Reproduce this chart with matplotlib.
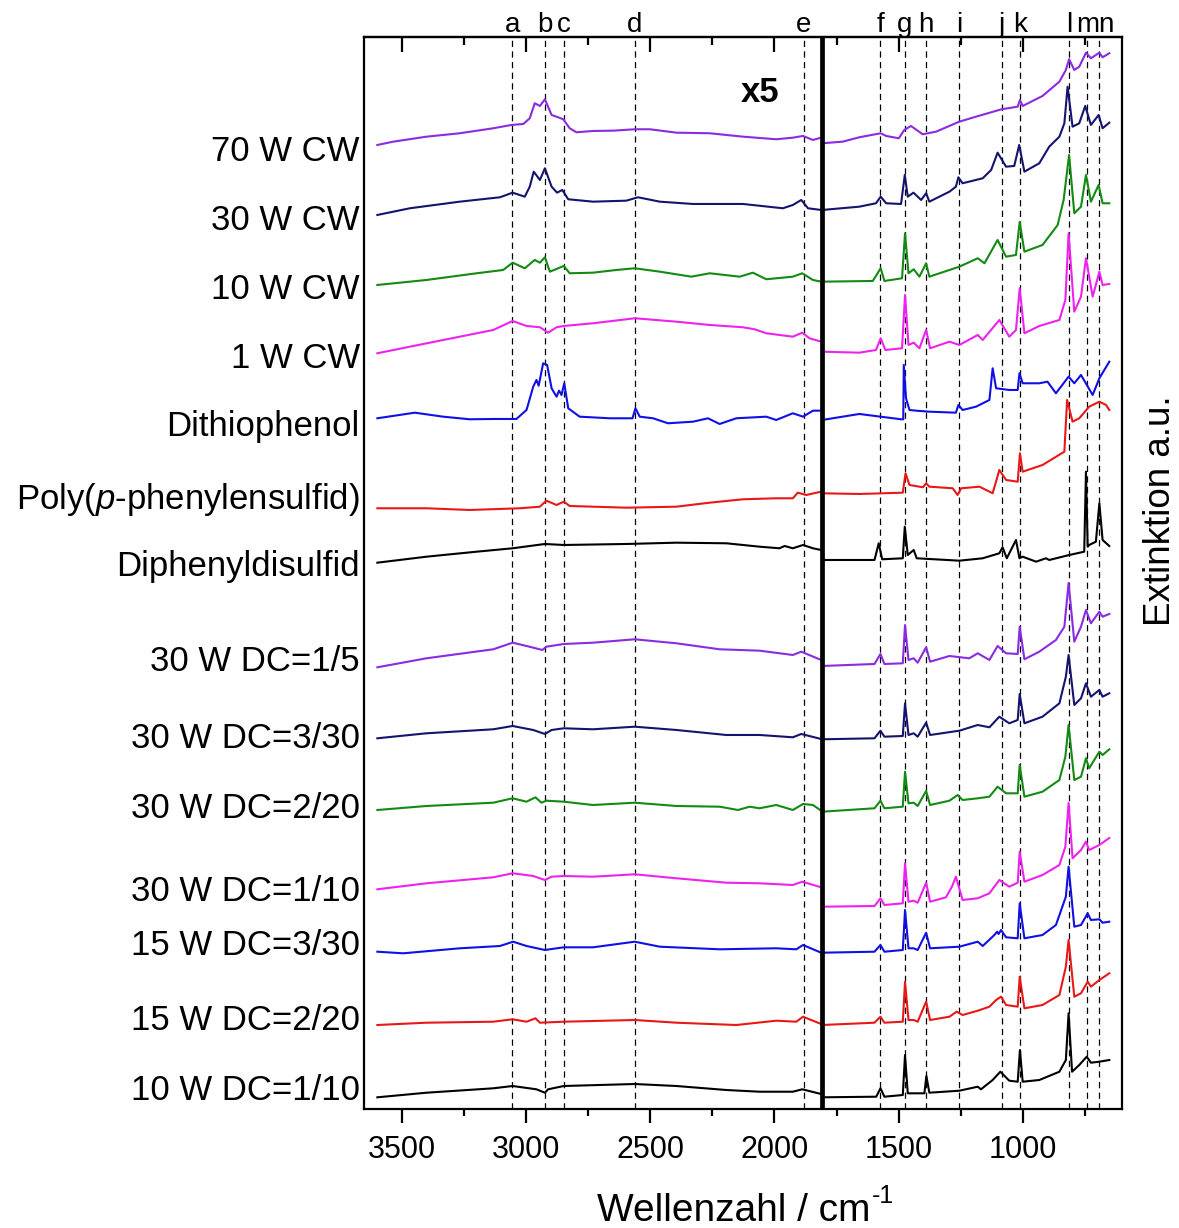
import matplotlib
matplotlib.use('Agg')
import matplotlib.pyplot as plt
from matplotlib.ticker import MultipleLocator
import matplotlib.transforms as mtransforms

plt.rcParams['font.family'] = ['Liberation Sans', 'DejaVu Sans']
plt.rcParams['mathtext.fontset'] = 'custom'
plt.rcParams['mathtext.rm'] = 'Liberation Sans'
plt.rcParams['mathtext.it'] = 'Liberation Sans:italic'
plt.rcParams['axes.unicode_minus'] = False

# ---------------- data ----------------
labels = ["70 W CW", "30 W CW", "10 W CW", "1 W CW", "Dithiophenol",
          "Poly($\\it{p}$-phenylensulfid)", "Diphenyldisulfid",
          "30 W DC=1/5", "30 W DC=3/30", "30 W DC=2/20", "30 W DC=1/10",
          "15 W DC=3/30", "15 W DC=2/20", "10 W DC=1/10"]
colors = ["#8A2BE2", "#14146E", "#138A13", "#EE22EE", "#1010E6", "#E81818", "#000000",
          "#8A2BE2", "#14146E", "#138A13", "#EE22EE", "#1010E6", "#E81818", "#000000"]
offsets = [964, 894, 824, 755.7, 690.7, 600.7, 546.3, 441.7, 370.7, 299, 219.7, 157.3, 84, 11.7]
label_pos = [961, 892, 823, 754, 686, 614, 546, 451, 374, 304, 221, 167, 92, 22]

band_wn = [3056, 2925, 2850, 2562, 1883, 1573, 1474, 1390, 1257, 1085, 1009, 814, 739, 691]
band_letters = ["a", "b", "c", "d", "e", "f", "g", "h", "i", "j", "k", "l", "m", "n"]
band_dx = [0, 0, 0, 0, 0, 0, 0, 0, 0, 0, 0, 0, 0, 5]
break_wn = 1810

# 70 W CW
wnL_cw70 = [3600, 3536, 3402, 3268, 3133, 3060, 3012, 2986, 2966, 2945, 2925, 2898, 2872, 2851, 2825, 2798, 2731, 2650, 2563, 2502, 2395, 2261, 2127, 1993, 1926, 1885, 1845, 1812]
exL_cw70 = [0, 3.3, 8.3, 11.7, 16.7, 20, 21, 26.7, 41.7, 39, 45.7, 30, 27.7, 25.7, 16.7, 12.7, 14, 14.3, 15.7, 15.7, 12.3, 11.7, 8.3, 5.7, 7.3, 9, 5, 7.3]
wnR_cw70 = [1808, 1725, 1658, 1572, 1550, 1499, 1477, 1450, 1403, 1349, 1255, 1188, 1085, 1020, 1011, 1000, 920, 852, 826, 813, 792, 772, 745, 725, 691, 678, 651]
exR_cw70 = [1.7, 3.3, 7.7, 11.7, 9, 6.7, 15, 19, 10.7, 13.3, 23.3, 28.3, 35.7, 38.3, 45, 39, 49, 63.3, 75, 85.7, 75, 78.3, 92.3, 86.7, 92.3, 87.7, 91.7]

# 30 W CW
wnL_cw30 = [3600, 3469, 3268, 3106, 3055, 3006, 2986, 2970, 2945, 2925, 2898, 2876, 2855, 2831, 2731, 2597, 2550, 2462, 2328, 2127, 1966, 1926, 1892, 1865, 1812]
exL_cw30 = [0, 6.7, 13.3, 17.7, 22.3, 18.3, 28.3, 43.3, 35, 46.7, 28.3, 22.3, 25, 15.7, 13.3, 14.3, 17.7, 13.3, 11, 11, 6.7, 10, 15, 6.7, 5]
wnR_cw30 = [1808, 1658, 1591, 1572, 1550, 1490, 1475, 1463, 1440, 1409, 1389, 1376, 1295, 1269, 1259, 1242, 1161, 1127, 1101, 1067, 1034, 1014, 993, 933, 893, 852, 832, 819, 799, 772, 748, 725, 694, 678, 651]
exR_cw30 = [5, 8.3, 11.7, 18.3, 11.7, 11, 40, 18.3, 22.3, 15, 21.7, 13.3, 23.3, 28.3, 37.7, 31.7, 36.7, 45, 62.3, 48.3, 49, 70, 43.3, 51.7, 68.3, 78.3, 91.7, 128.3, 88.3, 91.7, 109, 90, 100, 86.7, 92.3]

# 10 W CW
wnL_cw10 = [3600, 3402, 3200, 3093, 3055, 3006, 2966, 2945, 2925, 2905, 2849, 2825, 2731, 2637, 2563, 2462, 2335, 2261, 2140, 2087, 2033, 1926, 1888, 1845, 1812]
exL_cw10 = [0, 5, 11.7, 15, 22.3, 16.7, 25, 22.3, 27.7, 13.3, 19, 11.7, 12.3, 15, 16.7, 13.3, 8.3, 11.7, 8.3, 12.3, 5.7, 8.3, 11.7, 5, 3.3]
wnR_cw10 = [1808, 1604, 1572, 1557, 1486, 1474, 1460, 1439, 1416, 1389, 1376, 1255, 1181, 1154, 1101, 1067, 1027, 1012, 993, 920, 859, 835, 813, 792, 765, 745, 725, 694, 678, 651]
exR_cw10 = [3.3, 4, 16.7, 4, 6.7, 51.7, 11.7, 15.7, 8.3, 21.7, 8.3, 18.3, 26.7, 21.7, 45, 28.3, 30, 63, 33.3, 40, 60, 85, 130, 71.7, 78.3, 110, 83.3, 100, 81.7, 81.7]

# 1 W CW
wnL_cw1 = [3600, 3469, 3268, 3133, 3055, 2999, 2945, 2912, 2878, 2849, 2731, 2563, 2395, 2261, 2127, 2080, 2033, 1926, 1888, 1859, 1812]
exL_cw1 = [0, 6.6, 16.6, 23.3, 32.3, 27.3, 26, 20.6, 26, 27.3, 30, 35, 31.6, 28.3, 26, 24, 20, 16.6, 20.6, 15, 11.6]
wnR_cw1 = [1808, 1658, 1591, 1572, 1553, 1486, 1474, 1460, 1439, 1416, 1389, 1373, 1295, 1255, 1181, 1161, 1094, 1054, 1027, 1012, 993, 933, 852, 828, 815, 792, 765, 745, 718, 691, 678, 651]
exR_cw1 = [1.6, 0.6, 3.3, 15, 3.3, 5, 58.3, 8.3, 10.6, 5, 23.3, 5, 11.6, 8.3, 18.3, 13.3, 33.3, 16.6, 23.3, 65, 20, 27.3, 33.3, 53.3, 120, 41.6, 56.6, 95, 56.6, 81.6, 68.3, 69.3]

# Dithiophenol
wnL_dtp = [3600, 3449, 3335, 3228, 3133, 3040, 2999, 2972, 2959, 2950, 2932, 2916, 2898, 2878, 2868, 2858, 2847, 2831, 2785, 2664, 2572, 2560, 2543, 2489, 2429, 2328, 2268, 2221, 2154, 2033, 1993, 1926, 1885, 1845, 1812]
exL_dtp = [0, 5.6, 1.6, -1, -0.7, -0.7, 8.3, 31.6, 38.3, 32.6, 55, 53.3, 30, 21.6, 27.6, 23.3, 35, 10, 1.6, 0, 0, 10, 1.6, 0, -5, -3.4, 0, -5.7, 0, 1.6, -1.7, 5, 1.6, 7.6, 7.6]
wnR_dtp = [1808, 1658, 1490, 1481, 1479, 1470, 1456, 1429, 1376, 1269, 1259, 1242, 1188, 1134, 1121, 1107, 1054, 1020, 1013, 1000, 933, 900, 866, 815, 792, 765, 718, 691, 651]
exR_dtp = [-1.7, 4.3, -1, -1, 53.3, 20, 8.3, 7.6, 6.6, 5.6, 13.3, 8.3, 11.6, 18.3, 50, 30, 28.3, 28.3, 45, 35, 35, 36.6, 25, 41.6, 35, 43.3, 23.3, 40, 56.6]

# Poly(p-phenylensulfid)
wnL_pps = [3600, 3402, 3228, 3026, 2945, 2919, 2878, 2849, 2825, 2597, 2395, 2261, 2127, 1993, 1926, 1906, 1872, 1812]
exL_pps = [0, 0, -1.7, 0, 1.6, 7.6, 3.3, 6.6, 2.3, 0.6, 1.6, 5.6, 9, 10, 10, 15.6, 13.3, 16.6]
wnR_pps = [1808, 1658, 1483, 1472, 1456, 1402, 1389, 1376, 1282, 1262, 1248, 1174, 1121, 1094, 1067, 1020, 1011, 1000, 920, 832, 821, 799, 772, 732, 691, 664, 651]
exR_pps = [15, 14.3, 15.6, 35, 23.3, 21, 25, 21.6, 20, 13.3, 20, 21.6, 15, 38.3, 28.3, 26.6, 55, 36.6, 43.3, 56.6, 108.3, 86.6, 90, 101.6, 106.6, 103.3, 98.3]

# Diphenyldisulfid
wnL_dpds = [3600, 3402, 3200, 3055, 2925, 2849, 2597, 2395, 2194, 2060, 1980, 1959, 1926, 1885, 1845, 1812]
exL_dpds = [0, 6, 11, 14.4, 18.7, 17.7, 18.7, 20, 19.4, 16, 14.4, 16.7, 14.4, 17.7, 14.4, 12.7]
wnR_dpds = [1808, 1597, 1580, 1566, 1483, 1475, 1463, 1439, 1427, 1255, 1161, 1094, 1081, 1064, 1027, 1013, 1000, 946, 906, 893, 812, 752, 745, 738, 732, 705, 691, 678, 651]
exR_dpds = [2.7, 2.7, 19.4, 3.4, 4.4, 36, 7.7, 12.7, 4.4, 2, 4.4, 9.4, 15.4, 4.4, 22.7, 4.4, 6, 1, 4.4, 2.7, 7.7, 11, 91, 16, 17.7, 21, 59.4, 22.7, 16.7]

# 30 W DC=1/5
wnL_dc30a = [3600, 3402, 3133, 3055, 2999, 2935, 2919, 2849, 2731, 2563, 2395, 2221, 2060, 1926, 1892, 1812]
exL_dc30a = [0, 9, 18, 24.6, 21.3, 17.3, 20.6, 23.3, 24.6, 28, 24, 18, 16.6, 12.3, 15.6, 7.3]
wnR_dc30a = [1808, 1597, 1573, 1557, 1483, 1474, 1460, 1439, 1423, 1389, 1373, 1295, 1215, 1181, 1134, 1101, 1067, 1020, 1012, 993, 933, 866, 832, 815, 792, 765, 745, 725, 691, 678, 651]
exR_dc30a = [1.3, 3.3, 13.3, 3.3, 4, 42.3, 7.3, 9, 4.6, 20, 5.6, 11.3, 9, 14, 7.3, 21.3, 14, 13.3, 40.6, 8, 15.6, 27.3, 40.6, 84.3, 25.6, 40.6, 57.3, 44, 55.6, 50.6, 53.3]

# 30 W DC=3/30
wnL_dc30b = [3600, 3402, 3133, 3055, 2972, 2925, 2898, 2849, 2731, 2563, 2395, 2194, 2060, 1926, 1892, 1812]
exL_dc30b = [0, 5, 9, 12.3, 8.3, 4.3, 8.3, 10, 9, 11.6, 8.3, 3.3, 3.3, 1, 4.3, -0.7]
wnR_dc30b = [1808, 1597, 1573, 1557, 1483, 1474, 1460, 1439, 1423, 1389, 1373, 1255, 1181, 1134, 1094, 1054, 1020, 1012, 993, 920, 852, 826, 815, 792, 765, 745, 725, 691, 678, 651]
exR_dc30b = [-1, 0, 7.6, 1.6, 2.3, 35, 3.3, 5, 1.6, 15.6, 3.3, 7.6, 13.3, 11, 21.6, 15, 18.3, 44.3, 15, 21.6, 35, 61.6, 83.3, 33.3, 40, 55, 41.6, 48.3, 41.6, 45]

# 30 W DC=2/20
wnL_dc30c = [3600, 3402, 3133, 3055, 2999, 2963, 2939, 2919, 2849, 2731, 2563, 2395, 2221, 2147, 2100, 2060, 1993, 1926, 1885, 1845, 1812]
exL_dc30c = [0, 4, 7.3, 11.7, 8.3, 12.7, 7.3, 9.3, 8.3, 5, 7.3, 4, 3.3, 0, 3.3, 1.7, 5, 0, 6, 5, -0.7]
wnR_dc30c = [1808, 1597, 1573, 1557, 1483, 1474, 1460, 1439, 1423, 1389, 1373, 1295, 1262, 1242, 1181, 1134, 1101, 1067, 1020, 1012, 993, 920, 852, 828, 815, 792, 765, 745, 732, 691, 678, 651]
exR_dc30c = [-1.7, 1.7, 9.3, 1.7, 3.3, 38.3, 6.7, 7.3, 4, 19, 5, 9.3, 15, 10, 11.7, 13.3, 23.3, 16.7, 16.7, 45, 13.3, 18.3, 30, 53.3, 85, 30, 33.3, 51.7, 41.7, 58.3, 55, 60.7]

# 30 W DC=1/10
wnL_dc30d = [3600, 3402, 3133, 3055, 2972, 2925, 2898, 2849, 2731, 2563, 2395, 2194, 2060, 1926, 1888, 1812]
exL_dc30d = [0, 6, 12, 16, 13.3, 9.3, 12.6, 13.3, 12.6, 15, 11, 6.6, 6, 4.3, 7.6, 2]
wnR_dc30d = [1808, 1597, 1573, 1557, 1483, 1474, 1460, 1439, 1423, 1389, 1373, 1309, 1285, 1269, 1242, 1181, 1134, 1094, 1054, 1020, 1012, 993, 920, 852, 828, 815, 799, 765, 745, 732, 691, 651]
exR_dc30d = [-17.4, -16.7, -9, -15.7, -14, 26, -12.4, -11.4, -13.4, 6.6, -12.4, -8, 2.6, 12.6, -10.7, -9, -4, 9.3, 2.6, 6.6, 37.6, 7.6, 14.3, 24.3, 42.6, 86.3, 31, 39.3, 47.6, 39.3, 44.3, 51.3]

# 15 W DC=3/30
wnL_dc15a = [3600, 3496, 3268, 3106, 3053, 2999, 2925, 2849, 2731, 2563, 2462, 2221, 1993, 1912, 1885, 1812]
exL_dc15a = [0, -1.6, 3.4, 5.7, 10, 5.7, 1.7, 4.4, 4.4, 10, 5, 2.4, 3.4, 2.4, 6.7, -1]
wnR_dc15a = [1808, 1597, 1573, 1557, 1483, 1474, 1460, 1439, 1423, 1389, 1373, 1255, 1181, 1161, 1114, 1103, 1097, 1087, 1067, 1020, 1012, 993, 920, 866, 826, 815, 792, 765, 738, 725, 691, 678, 651]
exR_dc15a = [-1, 0, 6.7, 0, 1.7, 41.7, 3.4, 3.4, 1.7, 19, 3.4, 5, 10, 5.7, 16.7, 20, 17.7, 21.7, 14.4, 13.4, 48.4, 13.4, 16.7, 26.7, 55, 85, 25, 26.7, 38.4, 31.7, 32.4, 29, 30]

# 15 W DC=2/20
wnL_dc15b = [3600, 3402, 3133, 3055, 2999, 2963, 2945, 2849, 2563, 2395, 2154, 1993, 1912, 1885, 1812]
exL_dc15b = [0, 2.3, 3.3, 5.7, 3.3, 6.7, 2.3, 3.3, 5, 2.3, 0, 4.3, 3.3, 8.3, 1]
wnR_dc15b = [1808, 1597, 1573, 1557, 1483, 1474, 1460, 1439, 1423, 1389, 1373, 1295, 1266, 1242, 1181, 1134, 1107, 1087, 1067, 1020, 1012, 993, 920, 852, 826, 815, 792, 765, 738, 725, 691, 651]
exR_dc15b = [0, 2.3, 8.3, 2.3, 3.3, 43.3, 5, 5, 3.3, 23.3, 5, 8.3, 13.3, 10, 14.3, 18.3, 25, 28.3, 20, 18.3, 48.3, 16.7, 20, 30, 58.3, 85, 28.3, 31.7, 43.3, 38.3, 45, 51.7]

# 10 W DC=1/10
wnL_dc10 = [3600, 3402, 3133, 3055, 2959, 2925, 2912, 2849, 2563, 2395, 2194, 2060, 1926, 1888, 1812]
exL_dc10 = [0, 4.6, 9, 11.3, 8, 4.6, 8, 11.3, 13.3, 11.3, 7.3, 5.6, 5.6, 8, 3.3]
wnR_dc10 = [1808, 1590, 1573, 1557, 1483, 1474, 1463, 1396, 1388, 1376, 1255, 1181, 1168, 1121, 1090, 1054, 1020, 1011, 1000, 933, 852, 826, 815, 801, 772, 742, 725, 691, 651]
exR_dc10 = [0, 0.6, 9, 0.6, 2.3, 42.3, 4, 4, 21.3, 4.6, 6.6, 10.6, 8, 17.3, 25.6, 16.6, 15.6, 47.3, 15.6, 17.3, 25.6, 37.3, 84, 25.6, 32.3, 40.6, 34.6, 35.6, 37.3]

series = [
    (wnL_cw70, exL_cw70, wnR_cw70, exR_cw70),
    (wnL_cw30, exL_cw30, wnR_cw30, exR_cw30),
    (wnL_cw10, exL_cw10, wnR_cw10, exR_cw10),
    (wnL_cw1, exL_cw1, wnR_cw1, exR_cw1),
    (wnL_dtp, exL_dtp, wnR_dtp, exR_dtp),
    (wnL_pps, exL_pps, wnR_pps, exR_pps),
    (wnL_dpds, exL_dpds, wnR_dpds, exR_dpds),
    (wnL_dc30a, exL_dc30a, wnR_dc30a, exR_dc30a),
    (wnL_dc30b, exL_dc30b, wnR_dc30b, exR_dc30b),
    (wnL_dc30c, exL_dc30c, wnR_dc30c, exR_dc30c),
    (wnL_dc30d, exL_dc30d, wnR_dc30d, exR_dc30d),
    (wnL_dc15a, exL_dc15a, wnR_dc15a, exR_dc15a),
    (wnL_dc15b, exL_dc15b, wnR_dc15b, exR_dc15b),
    (wnL_dc10, exL_dc10, wnR_dc10, exR_dc10),
]

# ---------------- figure ----------------
fig = plt.figure(figsize=(11.79, 12.28), dpi=100)
ax = fig.add_axes([0.3087, 0.0969, 0.6427, 0.8730])

for (wl, el, wr, er), off, col in zip(series, offsets, colors):
    ax.plot(wl, [off + v for v in el], color=col, lw=1.5, solid_joinstyle='round')
    ax.plot(wr, [off + v for v in er], color=col, lw=1.5, solid_joinstyle='round')

for w in band_wn:
    ax.axvline(w, color='black', lw=0.9, ls=(0, (5, 3.5)), zorder=1)

ax.axvline(break_wn, color='black', lw=3.4, zorder=5)

ax.set_xlim(3654, 601)
ax.set_ylim(0, 1072)
ax.set_yticks([])
for sp in ax.spines.values():
    sp.set_linewidth(1.6)

ax.xaxis.set_major_locator(MultipleLocator(500))
ax.xaxis.set_minor_locator(MultipleLocator(250))
ax.tick_params(axis='x', which='major', direction='out', length=10, width=1.6,
               labelsize=22, pad=9, top=False)
ax.tick_params(axis='x', which='minor', direction='out', length=5, width=1.6, top=False)

sec = ax.secondary_xaxis('top')
sec.xaxis.set_major_locator(MultipleLocator(500))
sec.xaxis.set_minor_locator(MultipleLocator(250))
sec.tick_params(axis='x', which='major', direction='in', length=11, width=1.6, labeltop=False)
sec.tick_params(axis='x', which='minor', direction='in', length=6, width=1.6)
sec.spines['top'].set_linewidth(1.6)

trans = mtransforms.blended_transform_factory(ax.transData, ax.transAxes)
for w, let, dx in zip(band_wn, band_letters, band_dx):
    ax.annotate(let, xy=(w, 1.0), xycoords=trans, xytext=(dx, 3.5),
                textcoords='offset points', ha='center', va='baseline', fontsize=20)

for lab, y in zip(labels, label_pos):
    ax.annotate(lab, xy=(0, y), xycoords=('axes fraction', 'data'), xytext=(-3, 0),
                textcoords='offset points', ha='right', va='center_baseline', fontsize=25)

ax.text(2060, 1016, 'x5', fontsize=25, fontweight='bold', ha='center', va='center')

xl = fig.text(597 / 1179, (1228 - 1221) / 1228, 'Wellenzahl / cm',
              ha='left', va='baseline', fontsize=28)
fig.canvas.draw()
bb = xl.get_window_extent()
fig.text((bb.x1 + 1) / 1179, (1228 - 1221 + 18) / 1228, '-1',
         ha='left', va='baseline', fontsize=18)
fig.text(1160 / 1179, 1 - 511 / 1228, 'Extinktion a.u.', rotation=90,
         ha='center', va='center', fontsize=26.5)

fig.savefig('out.png', dpi=100)
